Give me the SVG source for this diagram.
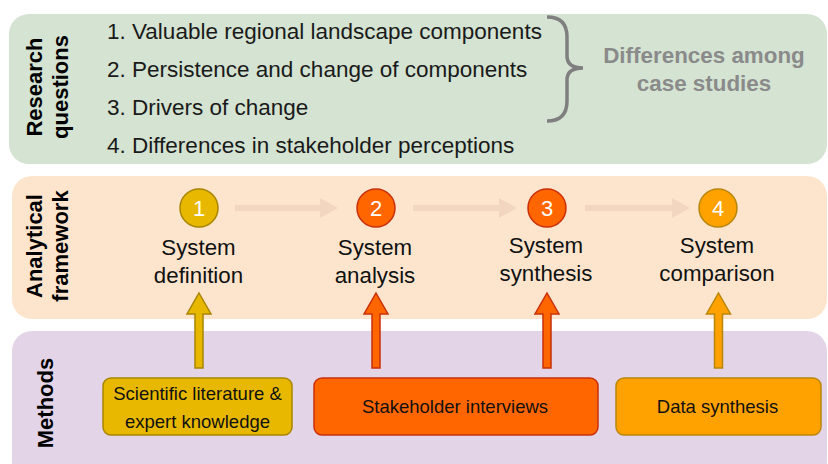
<svg xmlns="http://www.w3.org/2000/svg" width="828" height="464" viewBox="0 0 828 464">
<style>
text{font-family:"Liberation Sans",Arial,Helvetica,sans-serif;}
.lbl{font-size:22px;font-weight:bold;fill:#000;text-anchor:middle;}
.q{font-size:22.5px;fill:#1a1a1a;}
.st{font-size:22.3px;fill:#111;text-anchor:middle;}
.num{font-size:22px;fill:#fff;text-anchor:middle;}
.m{font-size:18.5px;fill:#111;text-anchor:middle;}
.diff{font-size:22.4px;font-weight:bold;fill:#8a8a8a;text-anchor:middle;}
.harrow{fill:#f3d6bf;}
.gold{fill:#e8b800;stroke:#a88500;stroke-width:1.5;}
.red{fill:#ff6600;stroke:#c8300a;stroke-width:1.5;}
.orange{fill:#ffa200;stroke:#b8860b;stroke-width:1.5;}
</style>
<rect width="828" height="464" fill="#fff"/>
<g id="panel-research">
<rect x="9" y="14" width="818" height="150" rx="20" fill="#d4e3d2"/>
<text class="lbl" transform="translate(42,87) rotate(-90)">Research</text>
<text class="lbl" transform="translate(68,87) rotate(-90)">questions</text>
<text class="q" x="107" y="39">1. Valuable regional landscape components</text>
<text class="q" x="107" y="77">2. Persistence and change of components</text>
<text class="q" x="107" y="115">3. Drivers of change</text>
<text class="q" x="107" y="153">4. Differences in stakeholder perceptions</text>
<path d="M547,17 Q567,17 567,37 L567,56 Q567,68 583,68 Q567,68 567,80 L567,101 Q567,121 547,121" fill="none" stroke="#7f7f7f" stroke-width="3.5"/>
<text class="diff" x="704" y="63">Differences among</text>
<text class="diff" x="704" y="91">case studies</text>
</g>
<g id="panel-framework">
<rect x="12" y="176" width="815" height="143" rx="20" fill="#fde5cd"/>
<text class="lbl" transform="translate(42,246) rotate(-90)">Analytical</text>
<text class="lbl" transform="translate(68,246) rotate(-90)">framework</text>
</g>
<g id="panel-methods">
<rect x="12" y="331" width="815" height="150" rx="20" fill="#e3d5e7"/>
<text class="lbl" transform="translate(53,403) rotate(-90)">Methods</text>
</g>
<g id="connectors">
<polygon class="harrow" points="235,205 320,205 320,198 338,208 320,218 320,211 235,211"/>
<polygon class="harrow" points="413,205 499,205 499,198 517,208 499,218 499,211 413,211"/>
<polygon class="harrow" points="585,205 672,205 672,198 690,208 672,218 672,211 585,211"/>
<polygon class="gold" points="199,293 211,314 203,314 203,368 195,368 195,314 187,314"/>
<polygon class="red" points="376,293 388,314 380,314 380,368 372,368 372,314 364,314"/>
<polygon class="red" points="547,293 559,314 551,314 551,368 543,368 543,314 535,314"/>
<polygon class="orange" points="718.5,293 730.5,314 722.5,314 722.5,368 714.5,368 714.5,314 706.5,314"/>
</g>
<g id="step1">
<circle class="gold" cx="199" cy="208" r="19"/>
<text class="num" x="199" y="216">1</text>
<text class="st" x="198.5" y="255">System</text>
<text class="st" x="198.5" y="283">definition</text>
</g>
<g id="step2">
<circle class="red" cx="376" cy="208" r="19"/>
<text class="num" x="376" y="216">2</text>
<text class="st" x="375" y="255">System</text>
<text class="st" x="375" y="283">analysis</text>
</g>
<g id="step3">
<circle class="red" cx="547" cy="208" r="19"/>
<text class="num" x="547" y="216">3</text>
<text class="st" x="546" y="253">System</text>
<text class="st" x="546" y="281">synthesis</text>
</g>
<g id="step4">
<circle class="orange" cx="718" cy="208" r="19"/>
<text class="num" x="718" y="216">4</text>
<text class="st" x="717" y="253">System</text>
<text class="st" x="717" y="281">comparison</text>
</g>
<g id="method1">
<rect class="gold" x="103" y="378" width="189" height="57" rx="8"/>
<text class="m" x="197.5" y="400">Scientific literature &amp;</text>
<text class="m" x="197.5" y="428">expert knowledge</text>
</g>
<g id="method2">
<rect class="red" x="314" y="378" width="284" height="57" rx="8"/>
<text class="m" x="455" y="413">Stakeholder interviews</text>
</g>
<g id="method3">
<rect class="orange" x="616" y="378" width="205" height="57" rx="8"/>
<text class="m" x="717.5" y="413">Data synthesis</text>
</g>
</svg>
